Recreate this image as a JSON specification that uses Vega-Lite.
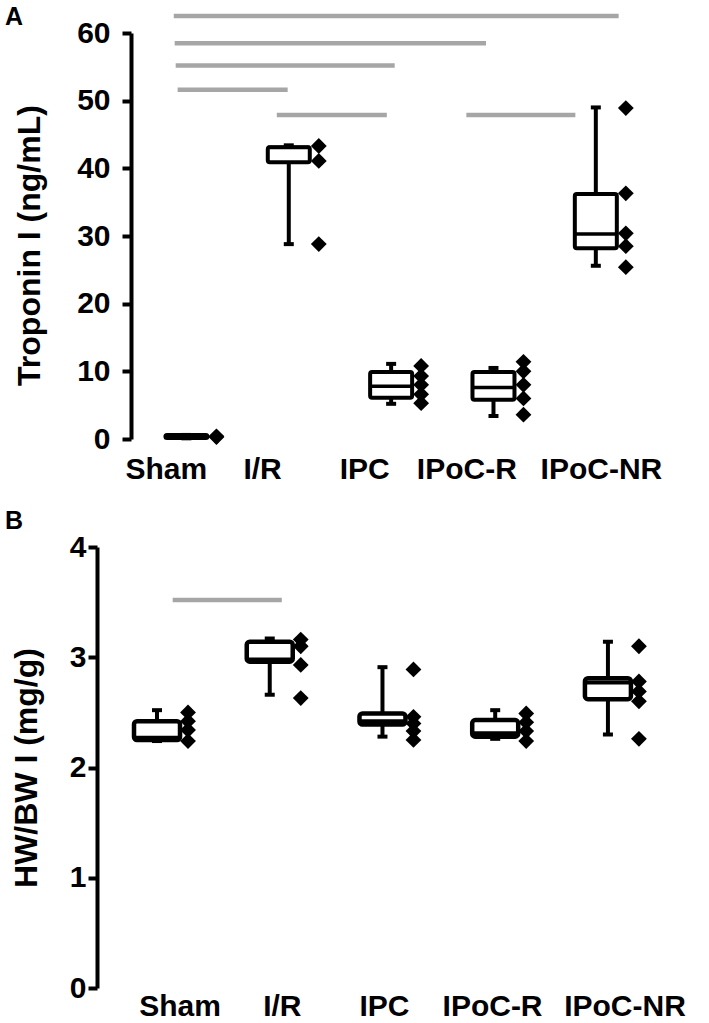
{
  "$schema": "https://vega.github.io/schema/vega-lite/v6.json",
  "background": "white",
  "padding": {"left": 5, "top": 4, "right": 0, "bottom": 0},
  "bounds": "flush",
  "spacing": 108,
  "config": {
    "view": {"stroke": null},
    "font": "Liberation Sans",
    "axis": {
      "labelFont": "Liberation Sans", "labelFontWeight": "bold", "labelFontSize": 30, "labelColor": "black",
      "titleFont": "Liberation Sans", "titleFontWeight": "bold", "titleFontSize": 32, "titleColor": "black",
      "grid": false, "domainColor": "black", "tickColor": "black", "domainWidth": 4, "tickWidth": 4, "tickSize": 9
    },
    "axisX": {"domain": false, "ticks": false, "labelAngle": 0, "labelFlush": false, "labelOverlap": false, "labelBound": false},
    "title": {"font": "Liberation Sans", "fontWeight": "bold", "fontSize": 25, "color": "black", "anchor": "start", "frame": "group"}
  },
  "datasets": {
    "boxA": [
      {"group": "Sham", "slot": 1, "lower": 0.1, "q1": 0.15, "median": 0.3, "q3": 0.6, "upper": 0.6},
      {"group": "I/R", "slot": 2, "lower": 28.8, "q1": 40.9, "median": 43.1, "q3": 43.1, "upper": 43.4},
      {"group": "IPC", "slot": 3, "lower": 5.2, "q1": 6.1, "median": 7.8, "q3": 9.9, "upper": 11.1},
      {"group": "IPoC-R", "slot": 4, "lower": 3.4, "q1": 5.8, "median": 7.6, "q3": 9.9, "upper": 10.5},
      {"group": "IPoC-NR", "slot": 5, "lower": 25.6, "q1": 28.2, "median": 30.3, "q3": 36.2, "upper": 49.0}
    ],
    "ptA": [
      {"group": "Sham", "slot": 1, "value": 0.3},
      {"group": "Sham", "slot": 1, "value": 0.4},
      {"group": "I/R", "slot": 2, "value": 43.3},
      {"group": "I/R", "slot": 2, "value": 41.1},
      {"group": "I/R", "slot": 2, "value": 28.8},
      {"group": "IPC", "slot": 3, "value": 10.8},
      {"group": "IPC", "slot": 3, "value": 9.3},
      {"group": "IPC", "slot": 3, "value": 8.0},
      {"group": "IPC", "slot": 3, "value": 6.6},
      {"group": "IPC", "slot": 3, "value": 5.3},
      {"group": "IPoC-R", "slot": 4, "value": 11.4},
      {"group": "IPoC-R", "slot": 4, "value": 10.0},
      {"group": "IPoC-R", "slot": 4, "value": 8.0},
      {"group": "IPoC-R", "slot": 4, "value": 6.0},
      {"group": "IPoC-R", "slot": 4, "value": 3.6},
      {"group": "IPoC-NR", "slot": 5, "value": 48.9},
      {"group": "IPoC-NR", "slot": 5, "value": 36.3},
      {"group": "IPoC-NR", "slot": 5, "value": 30.4},
      {"group": "IPoC-NR", "slot": 5, "value": 28.5},
      {"group": "IPoC-NR", "slot": 5, "value": 25.4}
    ],
    "sigA": [
      {"from": 0.876, "to": 5.223, "level": 62.5},
      {"from": 0.885, "to": 3.927, "level": 58.5},
      {"from": 0.895, "to": 3.035, "level": 55.2},
      {"from": 0.914, "to": 1.989, "level": 51.6},
      {"from": 1.883, "to": 2.958, "level": 47.9},
      {"from": 3.735, "to": 4.8, "level": 47.9}
    ],
    "boxB": [
      {"group": "Sham", "slot": 1, "lower": 2.24, "q1": 2.25, "median": 2.27, "q3": 2.42, "upper": 2.52},
      {"group": "I/R", "slot": 2, "lower": 2.66, "q1": 2.96, "median": 2.98, "q3": 3.14, "upper": 3.17},
      {"group": "IPC", "slot": 3, "lower": 2.28, "q1": 2.39, "median": 2.42, "q3": 2.49, "upper": 2.91},
      {"group": "IPoC-R", "slot": 4, "lower": 2.26, "q1": 2.28, "median": 2.31, "q3": 2.43, "upper": 2.52},
      {"group": "IPoC-NR", "slot": 5, "lower": 2.3, "q1": 2.62, "median": 2.77, "q3": 2.81, "upper": 3.14}
    ],
    "ptB": [
      {"group": "Sham", "slot": 1, "value": 2.5},
      {"group": "Sham", "slot": 1, "value": 2.42},
      {"group": "Sham", "slot": 1, "value": 2.34},
      {"group": "Sham", "slot": 1, "value": 2.24},
      {"group": "I/R", "slot": 2, "value": 3.16},
      {"group": "I/R", "slot": 2, "value": 3.1},
      {"group": "I/R", "slot": 2, "value": 2.93},
      {"group": "I/R", "slot": 2, "value": 2.63},
      {"group": "IPC", "slot": 3, "value": 2.89},
      {"group": "IPC", "slot": 3, "value": 2.46},
      {"group": "IPC", "slot": 3, "value": 2.4},
      {"group": "IPC", "slot": 3, "value": 2.33},
      {"group": "IPC", "slot": 3, "value": 2.25},
      {"group": "IPoC-R", "slot": 4, "value": 2.49},
      {"group": "IPoC-R", "slot": 4, "value": 2.41},
      {"group": "IPoC-R", "slot": 4, "value": 2.33},
      {"group": "IPoC-R", "slot": 4, "value": 2.24},
      {"group": "IPoC-NR", "slot": 5, "value": 3.1},
      {"group": "IPoC-NR", "slot": 5, "value": 2.78},
      {"group": "IPoC-NR", "slot": 5, "value": 2.69},
      {"group": "IPoC-NR", "slot": 5, "value": 2.6},
      {"group": "IPoC-NR", "slot": 5, "value": 2.26}
    ],
    "sigB": [
      {"from": 1.139, "to": 2.107, "level": 3.52}
    ]
  },
  "vconcat": [
    {
      "title": {"text": "A", "dx": -92, "offset": -16},
      "width": 555,
      "height": 406,
      "layer": [
        {
          "mark": {"type": "rule", "strokeWidth": 4, "color": "black"},
          "encoding": {
            "x": {"datum": 0.415, "type": "quantitative", "scale": {"domain": [0.175, 5.5], "nice": false, "zero": false}},
            "x2": {"datum": 5.5},
            "y": {"datum": 0, "type": "quantitative", "scale": {"domain": [0, 60], "nice": false}}
          }
        },
        {
          "data": {"name": "sigA"},
          "mark": {"type": "rule", "strokeWidth": 4.5, "color": "#a6a6a6"},
          "encoding": {
            "x": {"field": "from", "type": "quantitative", "scale": {"domain": [0.175, 5.5], "nice": false, "zero": false}},
            "x2": {"field": "to"},
            "y": {"field": "level", "type": "quantitative", "scale": {"domain": [0, 60], "nice": false}}
          }
        },
        {
          "data": {"name": "boxA"},
          "mark": {"type": "rule", "strokeWidth": 4, "color": "black"},
          "encoding": {
            "x": {"field": "slot", "type": "quantitative", "scale": {"domain": [0.175, 5.5], "nice": false, "zero": false}},
            "y": {"field": "lower", "type": "quantitative", "scale": {"domain": [0, 60], "nice": false}},
            "y2": {"field": "upper"}
          }
        },
        {
          "data": {"name": "boxA"},
          "mark": {"type": "bar", "width": 42, "fill": "white", "stroke": "black", "strokeWidth": 4, "cornerRadius": 2},
          "encoding": {
            "x": {"field": "slot", "type": "quantitative", "scale": {"domain": [0.175, 5.5], "nice": false, "zero": false},
              "axis": {"title": null, "values": [0.799, 1.739, 2.737, 3.735, 5.05], "labelPadding": 15,
                "labelExpr": "datum.value < 1.2 ? 'Sham' : datum.value < 2.2 ? 'I/R' : datum.value < 3.2 ? 'IPC' : datum.value < 4.4 ? 'IPoC-R' : 'IPoC-NR'"}},
            "y": {"field": "q1", "type": "quantitative", "scale": {"domain": [0, 60], "nice": false},
              "axis": {"title": "Troponin I (ng/mL)", "values": [0, 10, 20, 30, 40, 50, 60], "format": "d", "offset": -34, "labelPadding": 12, "titlePadding": 30, "titleY": 212}},
            "y2": {"field": "q3"}
          }
        },
        {
          "data": {"name": "boxA"},
          "mark": {"type": "tick", "orient": "horizontal", "size": 42, "thickness": 3.5, "color": "black", "opacity": 1},
          "encoding": {
            "x": {"field": "slot", "type": "quantitative", "scale": {"domain": [0.175, 5.5], "nice": false, "zero": false}},
            "y": {"field": "median", "type": "quantitative", "scale": {"domain": [0, 60], "nice": false}}
          }
        },
        {
          "data": {"name": "boxA"},
          "mark": {"type": "tick", "orient": "horizontal", "size": 10, "thickness": 4, "color": "black", "opacity": 1},
          "encoding": {
            "x": {"field": "slot", "type": "quantitative", "scale": {"domain": [0.175, 5.5], "nice": false, "zero": false}},
            "y": {"field": "upper", "type": "quantitative", "scale": {"domain": [0, 60], "nice": false}}
          }
        },
        {
          "data": {"name": "boxA"},
          "mark": {"type": "tick", "orient": "horizontal", "size": 10, "thickness": 4, "color": "black", "opacity": 1},
          "encoding": {
            "x": {"field": "slot", "type": "quantitative", "scale": {"domain": [0.175, 5.5], "nice": false, "zero": false}},
            "y": {"field": "lower", "type": "quantitative", "scale": {"domain": [0, 60], "nice": false}}
          }
        },
        {
          "data": {"name": "ptA"},
          "mark": {"type": "point", "shape": "diamond", "filled": true, "color": "black", "opacity": 1, "size": 250, "xOffset": 30},
          "encoding": {
            "x": {"field": "slot", "type": "quantitative", "scale": {"domain": [0.175, 5.5], "nice": false, "zero": false}},
            "y": {"field": "value", "type": "quantitative", "scale": {"domain": [0, 60], "nice": false}}
          }
        }
      ]
    },
    {
      "title": {"text": "B", "dx": -92, "offset": -2},
      "width": 567,
      "height": 441,
      "layer": [
        {
          "mark": {"type": "rule", "strokeWidth": 4, "color": "black"},
          "encoding": {
            "x": {"datum": 0.451, "type": "quantitative", "scale": {"domain": [0.512, 5.453], "nice": false, "zero": false}},
            "x2": {"datum": 5.453},
            "y": {"datum": 0, "type": "quantitative", "scale": {"domain": [0, 4], "nice": false}}
          }
        },
        {
          "data": {"name": "sigB"},
          "mark": {"type": "rule", "strokeWidth": 4.5, "color": "#a6a6a6"},
          "encoding": {
            "x": {"field": "from", "type": "quantitative", "scale": {"domain": [0.512, 5.453], "nice": false, "zero": false}},
            "x2": {"field": "to"},
            "y": {"field": "level", "type": "quantitative", "scale": {"domain": [0, 4], "nice": false}}
          }
        },
        {
          "data": {"name": "boxB"},
          "mark": {"type": "rule", "strokeWidth": 4, "color": "black"},
          "encoding": {
            "x": {"field": "slot", "type": "quantitative", "scale": {"domain": [0.512, 5.453], "nice": false, "zero": false}},
            "y": {"field": "lower", "type": "quantitative", "scale": {"domain": [0, 4], "nice": false}},
            "y2": {"field": "upper"}
          }
        },
        {
          "data": {"name": "boxB"},
          "mark": {"type": "bar", "width": 46, "fill": "white", "stroke": "black", "strokeWidth": 4.5, "cornerRadius": 3},
          "encoding": {
            "x": {"field": "slot", "type": "quantitative", "scale": {"domain": [0.512, 5.453], "nice": false, "zero": false},
              "axis": {"title": null, "values": [1.2, 2.107, 3.013, 3.972, 5.147], "labelPadding": 3,
                "labelExpr": "datum.value < 1.6 ? 'Sham' : datum.value < 2.5 ? 'I/R' : datum.value < 3.5 ? 'IPC' : datum.value < 4.5 ? 'IPoC-R' : 'IPoC-NR'"}},
            "y": {"field": "q1", "type": "quantitative", "scale": {"domain": [0, 4], "nice": false},
              "axis": {"title": "HW/BW I (mg/g)", "values": [0, 1, 2, 3, 4], "format": "d", "labelPadding": 2, "titlePadding": 26}},
            "y2": {"field": "q3"}
          }
        },
        {
          "data": {"name": "boxB"},
          "mark": {"type": "tick", "orient": "horizontal", "size": 46, "thickness": 4, "color": "black", "opacity": 1},
          "encoding": {
            "x": {"field": "slot", "type": "quantitative", "scale": {"domain": [0.512, 5.453], "nice": false, "zero": false}},
            "y": {"field": "median", "type": "quantitative", "scale": {"domain": [0, 4], "nice": false}}
          }
        },
        {
          "data": {"name": "boxB"},
          "mark": {"type": "tick", "orient": "horizontal", "size": 10, "thickness": 4, "color": "black", "opacity": 1},
          "encoding": {
            "x": {"field": "slot", "type": "quantitative", "scale": {"domain": [0.512, 5.453], "nice": false, "zero": false}},
            "y": {"field": "upper", "type": "quantitative", "scale": {"domain": [0, 4], "nice": false}}
          }
        },
        {
          "data": {"name": "boxB"},
          "mark": {"type": "tick", "orient": "horizontal", "size": 10, "thickness": 4, "color": "black", "opacity": 1},
          "encoding": {
            "x": {"field": "slot", "type": "quantitative", "scale": {"domain": [0.512, 5.453], "nice": false, "zero": false}},
            "y": {"field": "lower", "type": "quantitative", "scale": {"domain": [0, 4], "nice": false}}
          }
        },
        {
          "data": {"name": "ptB"},
          "mark": {"type": "point", "shape": "diamond", "filled": true, "color": "black", "opacity": 1, "size": 250, "xOffset": 31},
          "encoding": {
            "x": {"field": "slot", "type": "quantitative", "scale": {"domain": [0.512, 5.453], "nice": false, "zero": false}},
            "y": {"field": "value", "type": "quantitative", "scale": {"domain": [0, 4], "nice": false}}
          }
        }
      ]
    }
  ]
}
